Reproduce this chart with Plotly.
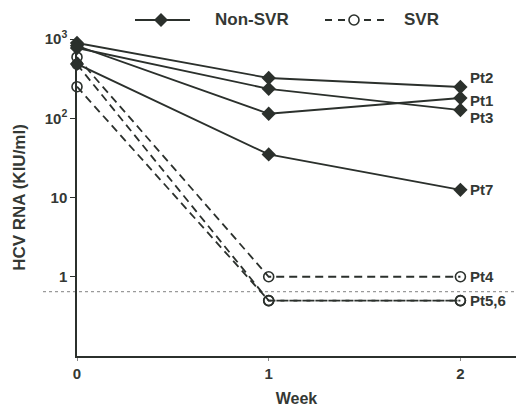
import plotly.graph_objects as go
import numpy as np

weeks = [0, 1, 2]

# Non-SVR patients (KIU/ml)
pt1 = [820, 114, 180]
pt2 = [890, 322, 248]
pt3 = [770, 235, 127]
pt7 = [485, 35, 12.5]
nonsvr_names = ["Pt1", "Pt2", "Pt3", "Pt7"]
nonsvr_values = [pt1, pt2, pt3, pt7]

# SVR patients (KIU/ml)
pt4 = [590, 1.0, 1.0]
pt5 = [250, 0.5, 0.5]
pt6 = [480, 0.5, 0.5]
svr_names = ["Pt4", "Pt5", "Pt6"]
svr_values = [pt4, pt5, pt6]

# end labels at week 2
label_texts = ["Pt2", "Pt1", "Pt3", "Pt7", "Pt4", "Pt5,6"]
label_values = [248, 180, 127, 12.5, 1.0, 0.5]
label_yshift = [9, -2, -7, 0, 0, 0]

detection_limit = 0.65

x_ticks = [0, 1, 2]
y_tickvals = [1, 10, 100, 1000]
y_ticktext = ["1", "10", "10<sup>2</sup>", "10<sup>3</sup>"]

INK = "#2b302c"
TXT = "#343834"
FONT = "Liberation Sans, Arial, Helvetica, sans-serif"

# plot area geometry (pixels) used for the hand-built legend
L, T, W, H = 77, 39, 439, 317


def px(xp):
    return (xp - L) / W


def py(yp):
    return (T + H - yp) / H


fig = go.Figure()

for i, (name, vals) in enumerate(zip(nonsvr_names, nonsvr_values)):
    fig.add_trace(go.Scatter(
        x=weeks, y=vals, mode="lines+markers", name=name, showlegend=False,
        line=dict(color=INK, width=1.8),
        marker=dict(symbol="diamond", size=11, color=INK, line=dict(color=INK, width=0)),
        cliponaxis=False,
    ))

for i, (name, vals) in enumerate(zip(svr_names, svr_values)):
    fig.add_trace(go.Scatter(
        x=weeks, y=vals, mode="lines+markers", name=name, showlegend=False,
        line=dict(color=INK, width=1.8, dash="8px,5px"),
        marker=dict(symbol="circle-open", size=10, color=INK, line=dict(color=INK, width=1.6)),
        cliponaxis=False,
    ))

for t, v, ys in zip(label_texts, label_values, label_yshift):
    fig.add_annotation(
        x=2, y=np.log10(v), text=t, showarrow=False,
        xanchor="left", yanchor="middle", xshift=8, yshift=ys,
        font=dict(family=FONT, size=15, color=TXT, weight="bold"),
    )

fig.add_shape(
    type="line", xref="paper", yref="y",
    x0=px(43), x1=1.0, y0=detection_limit, y1=detection_limit,
    line=dict(color="#9a9a9a", width=1.2, dash="dot"),
    layer="below",
)

# legend (drawn by hand so the sample lines are as long as in the original)
ly = py(20)
fig.add_shape(type="line", xref="paper", yref="paper", x0=px(135), x1=px(190), y0=ly, y1=ly,
              line=dict(color=INK, width=1.8))
fig.add_shape(type="path", xref="paper", yref="paper",
              path="M {a},{b} L {c},{d} L {a},{e} L {f},{d} Z".format(
                  a=px(161), b=py(13), c=px(168), d=py(20), e=py(27), f=px(154)),
              fillcolor=INK, line=dict(color=INK, width=0))
fig.add_shape(type="line", xref="paper", yref="paper", x0=px(325), x1=px(384), y0=ly, y1=ly,
              line=dict(color=INK, width=1.8, dash="7px,6px"))
fig.add_shape(type="circle", xref="paper", yref="paper",
              x0=px(349), x1=px(359), y0=py(25), y1=py(15),
              fillcolor="white", line=dict(color=INK, width=1.6))
fig.add_annotation(xref="paper", yref="paper", x=px(213), y=ly, text="Non-SVR", showarrow=False,
                   xanchor="left", yanchor="middle",
                   font=dict(family=FONT, size=17, color=TXT, weight="bold"))
fig.add_annotation(xref="paper", yref="paper", x=px(402), y=ly, text="SVR", showarrow=False,
                   xanchor="left", yanchor="middle",
                   font=dict(family=FONT, size=17, color=TXT, weight="bold"))

fig.update_layout(
    width=516, height=407,
    margin=dict(l=L, r=0, t=T, b=407 - T - H),
    paper_bgcolor="white", plot_bgcolor="white",
    font=dict(family=FONT, size=15, color=TXT, weight="bold"),
    showlegend=False,
)

fig.update_xaxes(
    range=[0, 2.29], tickvals=x_ticks, ticktext=[str(t) for t in x_ticks],
    showgrid=False, zeroline=False, showline=True, linecolor=INK, linewidth=1.5,
    ticks="outside", ticklen=3, tickcolor="#888888", automargin=False,
    title=dict(text="Week", standoff=12, font=dict(family=FONT, size=16, color=TXT, weight="bold")),
    tickfont=dict(family=FONT, size=15, color=TXT, weight="bold"),
)
fig.update_yaxes(
    type="log", range=[-1, 3.0], tickvals=y_tickvals, ticktext=y_ticktext,
    showgrid=False, zeroline=False, showline=True, linecolor=INK, linewidth=1.5,
    ticks="outside", ticklen=5, tickcolor=INK, automargin=False,
    title=dict(text="HCV RNA (KIU/ml)", standoff=15, font=dict(family=FONT, size=17, color=TXT, weight="bold")),
    tickfont=dict(family=FONT, size=15, color=TXT, weight="bold"),
)

fig.write_html(
    "out.html",
    config={"displayModeBar": False},
    post_script="document.body.style.margin='0px';document.body.style.overflow='hidden';",
)
